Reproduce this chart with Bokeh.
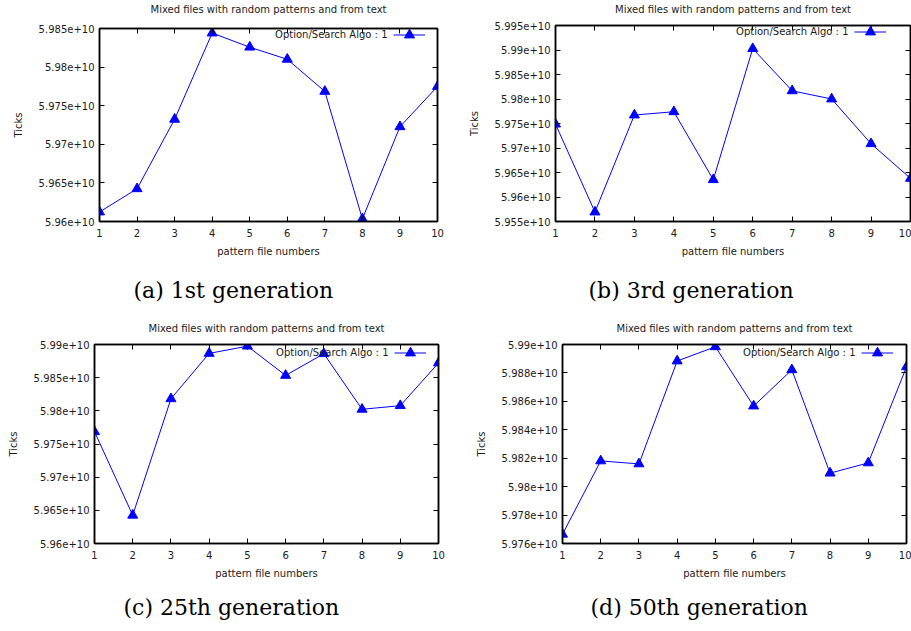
from bokeh.plotting import figure
from bokeh.models import (Range1d, FixedTicker, LinearAxis, Legend, LegendItem,
                          Label, Title, CustomJSTickFormatter)
from bokeh.layouts import column, row
from bokeh.embed import file_html
from bokeh.resources import INLINE

# ---------------- data ----------------
files = [1, 2, 3, 4, 5, 6, 7, 8, 9, 10]

gen1 = [59612300000, 59642400000, 59732400000, 59844100000, 59825800000,
        59810100000, 59768500000, 59603400000, 59722700000, 59774900000]
gen3 = [59748700000, 59569300000, 59767300000, 59774000000, 59635300000,
        59902700000, 59816700000, 59800000000, 59708700000, 59638000000]
gen25 = [59768600000, 59642600000, 59818200000, 59886600000, 59897500000,
         59853400000, 59886100000, 59802300000, 59807800000, 59872200000]
gen50 = [59766500000, 59818100000, 59816000000, 59888400000, 59898400000,
         59856700000, 59882200000, 59809500000, 59816700000, 59884300000]

yticks1 = [59600000000, 59650000000, 59700000000, 59750000000, 59800000000, 59850000000]
ylabels1 = ["5.96e+10", "5.965e+10", "5.97e+10", "5.975e+10", "5.98e+10", "5.985e+10"]
yticks3 = [59550000000, 59600000000, 59650000000, 59700000000, 59750000000,
           59800000000, 59850000000, 59900000000, 59950000000]
ylabels3 = ["5.955e+10", "5.96e+10", "5.965e+10", "5.97e+10", "5.975e+10",
            "5.98e+10", "5.985e+10", "5.99e+10", "5.995e+10"]
yticks25 = [59600000000, 59650000000, 59700000000, 59750000000, 59800000000,
            59850000000, 59900000000]
ylabels25 = ["5.96e+10", "5.965e+10", "5.97e+10", "5.975e+10", "5.98e+10",
             "5.985e+10", "5.99e+10"]
yticks50 = [59760000000, 59780000000, 59800000000, 59820000000, 59840000000,
            59860000000, 59880000000, 59900000000]
ylabels50 = ["5.976e+10", "5.978e+10", "5.98e+10", "5.982e+10", "5.984e+10",
             "5.986e+10", "5.988e+10", "5.99e+10"]

title_text = "Mixed files with random patterns and from text"
series_name = "Option/Search Algo : 1"
x_label = "pattern file numbers"
y_label = "Ticks"
captions = ["(a) 1st generation", "(b) 3rd generation",
            "(c) 25th generation", "(d) 50th generation"]

SANS = "DejaVu Sans"
SERIF = "DejaVu Serif"
TXT = "#1a1a1a"
BLUE = "#0000ff"


def style_axis(ax, labels=True):
    ax.major_tick_in = 5
    ax.major_tick_out = 0
    ax.minor_tick_line_color = None
    ax.axis_line_color = "black"
    ax.axis_line_width = 1.5
    ax.major_tick_line_color = "black"
    ax.major_tick_line_width = 1
    ax.axis_label_text_font = SANS
    ax.axis_label_text_font_size = "10px"
    ax.axis_label_text_font_style = "normal"
    ax.axis_label_text_color = TXT
    if labels:
        ax.major_label_text_font = SANS
        ax.major_label_text_font_size = "10px"
        ax.major_label_text_color = TXT
    else:
        ax.formatter = CustomJSTickFormatter(code="return ''")
        ax.major_label_standoff = 0
        ax.major_label_text_font_size = "1px"


def panel(ys, yticks, ylabels, caption, w, h, bl, bt, br, bb,
          title_standoff, cap_offset, cap_standoff, leg_right, leg_top):
    fw = w - bl - br
    fh = h - bt - bb
    p = figure(width=w, height=h, output_backend="svg",
               toolbar_location=None,
               x_range=Range1d(files[0], files[-1]),
               y_range=Range1d(yticks[0], yticks[-1]),
               min_border_left=bl, min_border_top=bt,
               min_border_right=br, min_border_bottom=bb)
    p.background_fill_color = "white"
    p.border_fill_color = "white"
    p.outline_line_color = "black"
    p.outline_line_width = 1.5
    p.xgrid.visible = False
    p.ygrid.visible = False

    xa = p.xaxis[0]
    ya = p.yaxis[0]
    xa.ticker = FixedTicker(ticks=files)
    ya.ticker = FixedTicker(ticks=yticks)
    ya.major_label_overrides = {t: s for t, s in zip(yticks, ylabels)}
    style_axis(xa)
    style_axis(ya)
    xa.axis_label = x_label
    ya.axis_label = y_label
    xa.major_label_standoff = 7
    xa.axis_label_standoff = 6
    ya.major_label_standoff = 5
    ya.axis_label_standoff = 12

    # mirror axes (inward ticks on top / right); the top one carries the title
    top = LinearAxis(ticker=FixedTicker(ticks=files))
    right = LinearAxis(ticker=FixedTicker(ticks=yticks))
    style_axis(top, labels=False)
    style_axis(right, labels=False)
    top.axis_label = title_text
    top.axis_label_standoff = title_standoff
    p.add_layout(top, "above")
    p.add_layout(right, "right")

    ln = p.line(files, ys, line_color=BLUE, line_width=1)
    sc = p.scatter(files, ys, marker="triangle", size=10,
                   fill_color=BLUE, line_color=BLUE)

    # legend: text on the left, sample on the right (gnuplot style)
    p.add_layout(Label(x=fw - leg_right, y=fh - leg_top, x_units="screen",
                       y_units="screen", text=series_name, text_align="right",
                       text_baseline="middle", text_font=SANS,
                       text_font_size="10px", text_color=TXT))
    leg = Legend(items=[LegendItem(label=" ", renderers=[ln, sc])],
                 location=(fw - leg_right + 6, fh - leg_top - 12.5),
                 glyph_width=32, glyph_height=25, padding=0, margin=0,
                 spacing=0, label_standoff=0, label_width=0,
                 label_text_font_size="1px", border_line_color=None,
                 background_fill_alpha=0)
    p.add_layout(leg, "center")

    p.add_layout(Title(text=caption, align="left", text_font=SERIF,
                       text_font_size="22px", text_font_style="normal",
                       text_color="black", offset=cap_offset,
                       standoff=cap_standoff), "below")
    return p


pa = panel(gen1, yticks1, ylabels1, captions[0], 463, 318, 99, 28, 26, 94,
           14, 34, 32, 50, 9)
pb = panel(gen3, yticks3, ylabels3, captions[1], 448, 318, 92, 23, 1, 95,
           11, 33, 32, 62, 10)
pc = panel(gen25, yticks25, ylabels25, captions[2], 463, 312, 94, 26, 25, 84,
           11, 29, 22, 50, 11)
pd = panel(gen50, yticks50, ylabels50, captions[3], 448, 312, 99, 26, 5, 84,
           11, 28, 22, 51, 11)

layout = column(row(column(pa), column(pb)), row(column(pc), column(pd)))
open("out.html", "w").write(file_html(layout, INLINE))
